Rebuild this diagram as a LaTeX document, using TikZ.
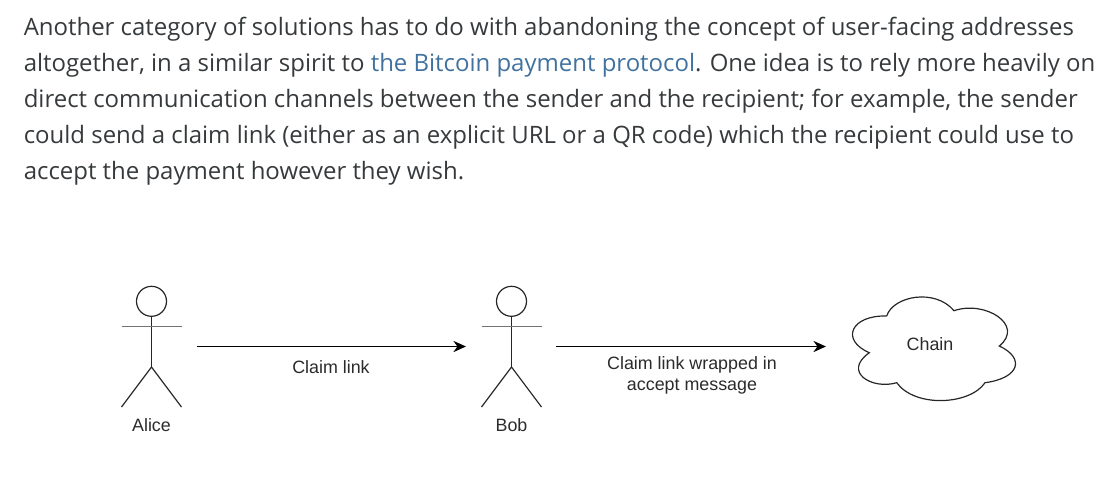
\documentclass[tikz,border=0pt]{standalone}
\usepackage{fontspec}
\setmainfont{Liberation Sans}
\newfontfamily\parafont{Open Sans}
\usetikzlibrary{arrows.meta}
\definecolor{paratext}{HTML}{373A3C}
\definecolor{linktext}{HTML}{41729F}
\definecolor{labeltext}{HTML}{2B2B2B}
\tikzset{
  para/.style={anchor=base west,inner sep=0pt,text=paratext,font=\parafont\fontsize{17.04}{20}\selectfont},
  label/.style={inner sep=0pt,align=center,text=labeltext,font=\fontsize{12.7}{15}\selectfont},
  figure/.style={black!85,line width=0.85pt},
  flow/.style={black,line width=0.85pt,-{Stealth[length=9pt,width=8pt]}}
}
\begin{document}
\begin{tikzpicture}[x=0.025cm,y=-0.025cm]
    \useasboundingbox (0,0) rectangle (1115,482);
    \node[para] (line1) at (23.5,35.5) {Another category of solutions has to do with abandoning the concept of user-facing addresses};
    \node[para] (line2) at (23.5,71.5) {altogether, in a similar spirit to \textcolor{linktext}{the Bitcoin payment protocol}. One idea is to rely more heavily on};
    \node[para] (line3) at (23.5,107.5) {direct communication channels between the sender and the recipient; for example, the sender};
    \node[para] (line4) at (23.5,143.5) {could send a claim link (either as an explicit URL or a QR code) which the recipient could use to};
    \node[para] (line5) at (23.5,179.5) {accept the payment however they wish.};
    \foreach \who/\x/\name in {alice/151.5/Alice,bob/511.5/Bob}{
    \node[figure,draw,circle,inner sep=0pt,minimum size=0.75cm] (\who head) at (\x,301.3) {};
    \coordinate (\who hip) at (\x,367);
    \coordinate (\who armL) at (\x-30,326.5);
    \coordinate (\who armR) at (\x+30,326.5);
    \coordinate (\who legL) at (\x-30,407);
    \coordinate (\who legR) at (\x+30,407);
    \draw[figure] (\who head.south) -- (\who hip);
    \draw[figure,black!55,line width=1.1pt] (\who armL) -- (\who armR);
    \draw[figure] (\who legL) -- (\who hip) -- (\who legR);
    \node[label] (\who label) at (\x,425) {\name};}
    \coordinate (claimfrom) at (197,346.5);
    \coordinate (claimto) at (466,346.5);
    \coordinate (wrapfrom) at (556,346.5);
    \coordinate (wrapto) at (826,346.5);
    \draw[flow] (claimfrom) -- (claimto);
    \draw[flow] (wrapfrom) -- (wrapto);
    \node[label] (claimlabel) at (331,367) {Claim link};
    \node[label] (wraplabel) at (692,375.5) {Claim link wrapped in\\accept message};
    \draw[figure] (886.7,316) .. controls (893,296) and (935,288) .. (954,310.7)
      .. controls (985,300) and (1025,325) .. (999.3,346)
      .. controls (1025,358) and (1020,378) .. (985,382.7)
      .. controls (970,405) and (915,408) .. (896.7,382.7)
      .. controls (872,390) and (842,372) .. (869.3,352.7)
      .. controls (840,340) and (851,315) .. (886.7,316);
    \node[label] (chain) at (930,344) {Chain};
\end{tikzpicture}
\end{document}
